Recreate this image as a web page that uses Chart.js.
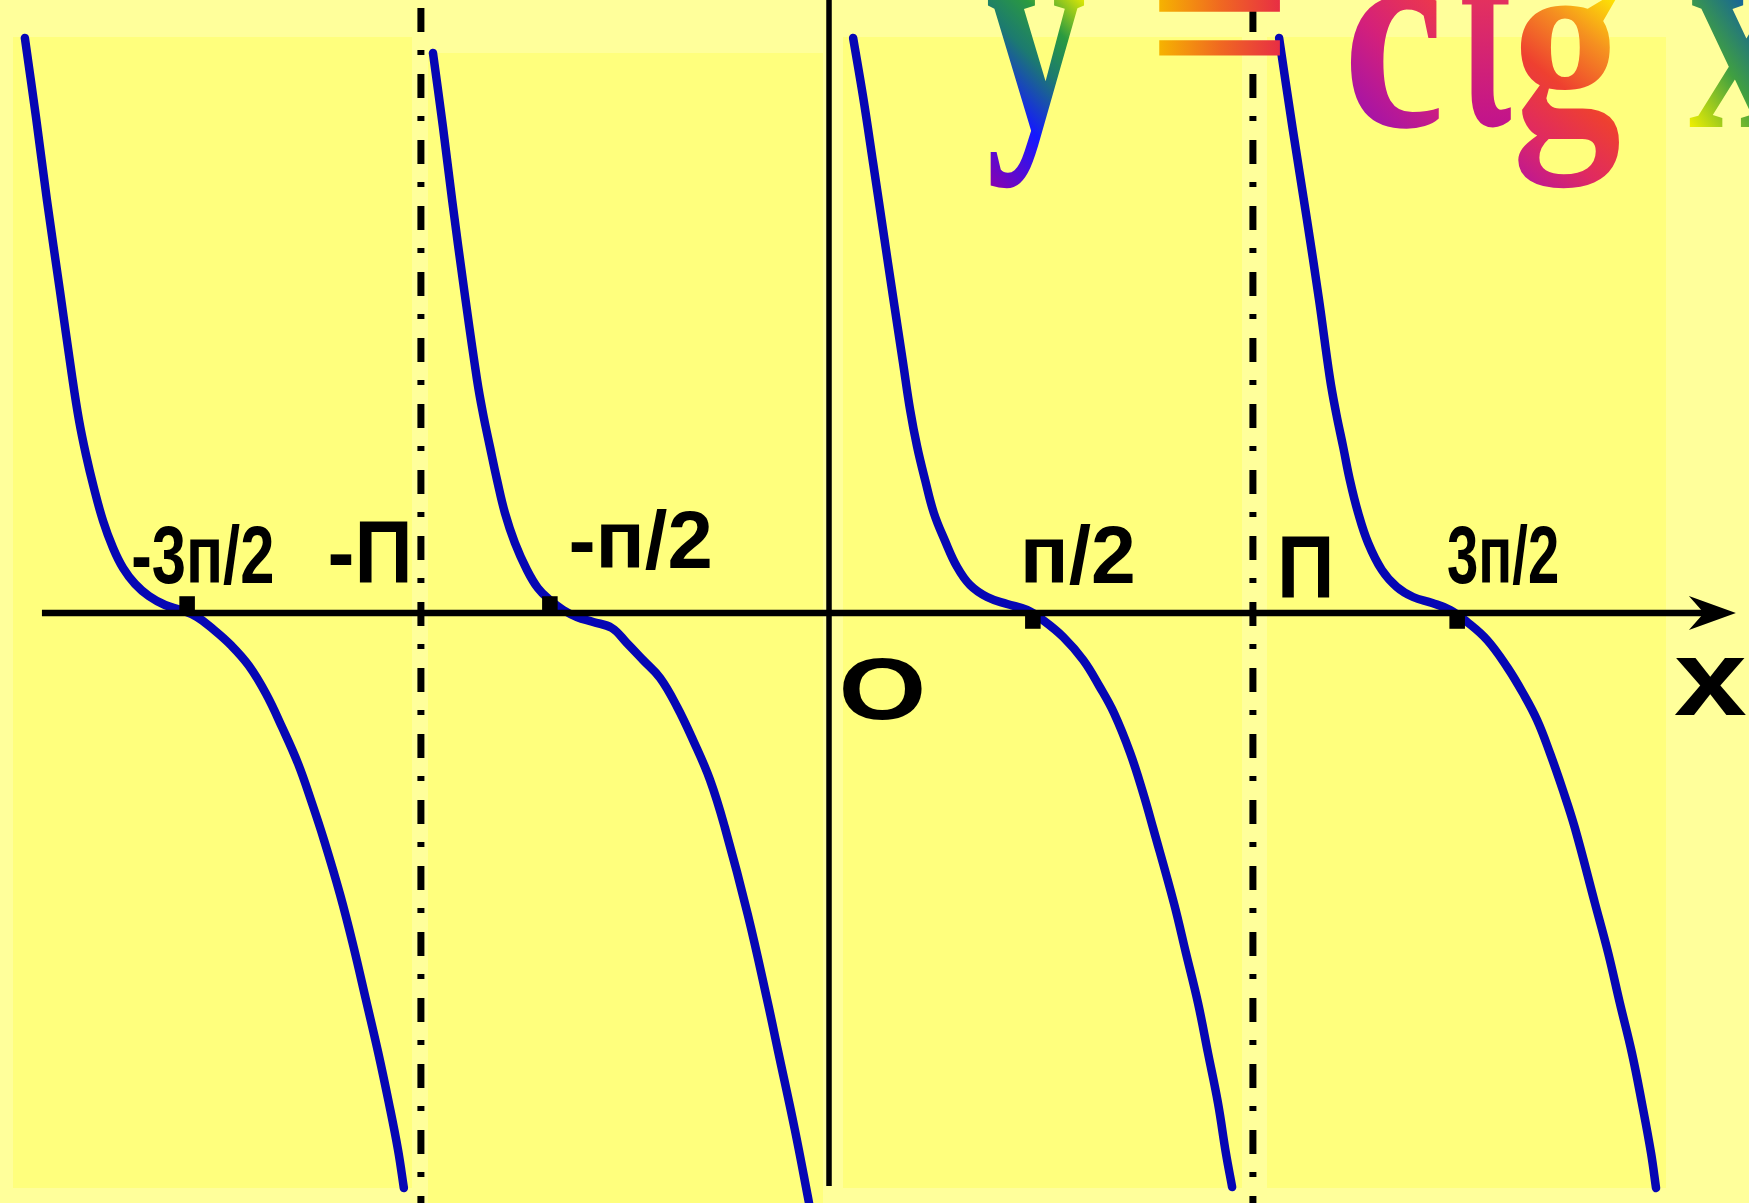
<!DOCTYPE html>
<html>
<head>
<meta charset="utf-8">
<title>y = ctg x</title>
<script src="https://cdn.jsdelivr.net/npm/chart.js@4.4.1/dist/chart.umd.min.js"></script>
<style>
  html, body { margin: 0; padding: 0; background: #ffff9b; }
  canvas { display: block; }
</style>
</head>
<body>
<canvas id="graph" width="1749" height="1203"></canvas>
<script>
// x is in units of pi, y in units of ctg x
const xRange = [-1.9928, 2.2115];
const yRange = [-5.90, 6.13];

const branch1 = [
  [-1.933, 5.75], [-1.906, 4.95], [-1.880, 4.13], [-1.849, 3.23], [-1.820, 2.38],
  [-1.803, 1.93], [-1.786, 1.58], [-1.767, 1.25], [-1.745, 0.92], [-1.721, 0.65],
  [-1.697, 0.45], [-1.668, 0.29], [-1.635, 0.17], [-1.596, 0.08], [-1.558, 0.03],
  [-1.519, -0.04], [-1.481, -0.16], [-1.438, -0.32], [-1.394, -0.53], [-1.353, -0.81],
  [-1.315, -1.14], [-1.276, -1.51], [-1.243, -1.90], [-1.214, -2.27], [-1.175, -2.82],
  [-1.144, -3.32], [-1.113, -3.87], [-1.084, -4.39], [-1.058, -4.90], [-1.036, -5.37],
  [-1.022, -5.75]
];
const branch2 = [
  [-0.952, 5.60], [-0.928, 4.86], [-0.906, 4.13], [-0.877, 3.23], [-0.846, 2.33],
  [-0.832, 2.00], [-0.815, 1.66], [-0.798, 1.33], [-0.779, 1.00], [-0.755, 0.70],
  [-0.726, 0.43], [-0.700, 0.25], [-0.671, 0.13], [-0.639, 0.03], [-0.606, -0.04],
  [-0.567, -0.09], [-0.522, -0.15], [-0.486, -0.30], [-0.447, -0.47], [-0.406, -0.65],
  [-0.365, -0.94], [-0.327, -1.27], [-0.286, -1.67], [-0.250, -2.15], [-0.195, -3.02],
  [-0.147, -3.90], [-0.123, -4.37], [-0.082, -5.17], [-0.048, -5.90]
];
const branch3 = [
  [0.058, 5.75], [0.082, 5.16], [0.106, 4.50], [0.130, 3.83], [0.154, 3.16],
  [0.178, 2.50], [0.195, 2.03], [0.212, 1.66], [0.231, 1.33], [0.252, 1.00],
  [0.279, 0.72], [0.308, 0.46], [0.339, 0.28], [0.380, 0.16], [0.428, 0.09],
  [0.476, 0.03], [0.514, -0.07], [0.563, -0.24], [0.611, -0.47], [0.651, -0.74],
  [0.685, -1.00], [0.724, -1.40], [0.755, -1.80], [0.779, -2.15], [0.829, -2.90],
  [0.858, -3.40], [0.887, -3.90], [0.911, -4.40], [0.935, -4.90], [0.954, -5.40],
  [0.969, -5.74]
];
const branch4 = [
  [1.082, 5.75], [1.115, 4.83], [1.149, 3.93], [1.178, 3.13], [1.204, 2.35],
  [1.219, 2.00], [1.236, 1.66], [1.252, 1.33], [1.272, 1.00], [1.296, 0.70],
  [1.329, 0.43], [1.365, 0.26], [1.404, 0.16], [1.450, 0.10], [1.493, 0.03],
  [1.534, -0.09], [1.582, -0.27], [1.630, -0.54], [1.668, -0.80], [1.702, -1.07],
  [1.733, -1.40], [1.764, -1.77], [1.793, -2.15], [1.841, -2.90], [1.873, -3.40],
  [1.901, -3.90], [1.930, -4.40], [1.954, -4.90], [1.976, -5.40], [1.988, -5.75]
];

const asymptotes = [-0.981, 1.019];
const zeroMarks = [[-1.543, 0.09], [-0.671, 0.09], [0.490, -0.08], [1.510, -0.08]];
const xAxisLine = [[-1.892, 0], [2.150, 0]];
const arrowTip = 2.180;
const yAxisLine = [[0, 6.13], [0, -5.73]];

const tickValues = [-1.543, -0.981, -0.671, 0.490, 1.019, 1.510];
const tickLabels = ['-3п/2', '-П', '-п/2', 'п/2', 'П', '3п/2'];
const originLabel = 'O';
const axisLabel = 'x';
const titleText = ['y', '=', 'c', 't', 'g', 'x'];

// ink box of each tick label: offset from its tick, and top/baseline from the x axis
const tickLabelBoxes = [
  { dx: -54, w: 139, top: -90, base: -30 },
  { dx: -91, w: 78, top: -91, base: -30 },
  { dx: 21, w: 139, top: -105, base: -45 },
  { dx: -8, w: 108, top: -89, base: -30 },
  { dx: 29, w: 48, top: -76, base: -15 },
  { dx: -9, w: 109, top: -90, base: -30 }
];

// title letters: ink box on the page plus a colour run for each
const titleGlyphs = [
  { box: [987, -4, 1085, 188], from: [990, 188], to: [1085, -5],
    stops: [[0, '#8a00b0'], [0.34, '#1418ff'], [0.6, '#1c7a70'], [0.78, '#2a9a40'], [1, '#f0f000']] },
  { box: [1158, -3, 1280, 56], from: [1158, 30], to: [1280, 30],
    stops: [[0, '#f6b400'], [0.5, '#f06a20'], [1, '#e82e44']] },
  { box: [1350, -4, 1439, 129], from: [1439, -5], to: [1350, 130],
    stops: [[0, '#ee3a48'], [0.45, '#d4207a'], [1, '#9810b4']] },
  { box: [1462, -40, 1511, 129], from: [1490, -40], to: [1490, 130],
    stops: [[0, '#ee3a50'], [1, '#c0128e']] },
  { box: [1518, -6, 1620, 188], from: [1620, -5], to: [1518, 188],
    stops: [[0, '#fff000'], [0.25, '#f59020'], [0.5, '#ee4030'], [0.75, '#e02a60'], [1, '#b8149c']] },
  { box: [1689, -4, 1792, 127], from: [1689, 126], to: [1792, -5],
    stops: [[0, '#f0f000'], [0.4, '#40a040'], [0.7, '#1a6a90'], [1, '#1030ff']] }
];

// background sheets behind the four branches
const sheets = [
  [13, 37, 412, 1188], [428, 53, 823, 1203], [843, 37, 1242, 1188], [1267, 37, 1666, 1188]
];

const pts = (arr) => arr.map(([x, y]) => ({ x: x, y: y }));

function fitText(ctx, text, left, top, base, width) {
  ctx.font = 'bold 100px "Liberation Sans", Arial, sans-serif';
  const m = ctx.measureText(text);
  const sx = width / (m.actualBoundingBoxLeft + m.actualBoundingBoxRight);
  const sy = (base - top) / m.actualBoundingBoxAscent;
  ctx.save();
  ctx.translate(left, base);
  ctx.scale(sx, sy);
  ctx.fillText(text, m.actualBoundingBoxLeft, 0);
  ctx.restore();
}

function drawTitle(ctx) {
  ctx.font = 'bold 200px "Liberation Serif", "Times New Roman", serif';
  titleText.forEach(function (ch, i) {
    const g = titleGlyphs[i];
    const [l, t, r, b] = g.box;
    const m = ctx.measureText(ch);
    const sx = (r - l) / (m.actualBoundingBoxLeft + m.actualBoundingBoxRight);
    const sy = (b - t) / (m.actualBoundingBoxAscent + m.actualBoundingBoxDescent);
    ctx.save();
    ctx.translate(l, t);
    ctx.scale(sx, sy);
    const grad = ctx.createLinearGradient(
      (g.from[0] - l) / sx, (g.from[1] - t) / sy,
      (g.to[0] - l) / sx, (g.to[1] - t) / sy);
    g.stops.forEach(function (s) { grad.addColorStop(s[0], s[1]); });
    ctx.fillStyle = grad;
    ctx.fillText(ch, m.actualBoundingBoxLeft, m.actualBoundingBoxAscent);
    ctx.restore();
  });
}

const paper = {
  id: 'paper',
  beforeDraw(chart) {
    const ctx = chart.ctx;
    ctx.save();
    ctx.fillStyle = '#ffff9b';
    ctx.fillRect(0, 0, chart.width, chart.height);
    ctx.fillStyle = '#ffff7d';
    sheets.forEach(function (s) { ctx.fillRect(s[0], s[1], s[2] - s[0], s[3] - s[1]); });
    ctx.restore();
  },
  afterDatasetsDraw(chart) {
    const ctx = chart.ctx;
    const xs = chart.scales.x, ys = chart.scales.y;
    const y0 = ys.getPixelForValue(0);
    ctx.save();
    ctx.fillStyle = '#000';
    ctx.textBaseline = 'alphabetic';

    // arrow head on the x axis
    const tx = xs.getPixelForValue(arrowTip);
    ctx.beginPath();
    ctx.moveTo(tx, y0);
    ctx.lineTo(tx - 47, y0 - 17);
    ctx.lineTo(tx - 32, y0);
    ctx.lineTo(tx - 47, y0 + 17);
    ctx.closePath();
    ctx.fill();

    tickValues.forEach(function (v, i) {
      const b = tickLabelBoxes[i];
      const px = xs.getPixelForValue(v);
      fitText(ctx, tickLabels[i], px + b.dx, y0 + b.top, y0 + b.base, b.w);
    });
    const ox = xs.getPixelForValue(0);
    fitText(ctx, originLabel, ox + 14, y0 + 45, y0 + 106, 79);
    fitText(ctx, axisLabel, tx - 62, y0 + 44, y0 + 102, 72);

    drawTitle(ctx);
    ctx.restore();
  }
};

const curveStyle = {
  showLine: true, borderColor: '#0606b4', borderWidth: 8.5, pointRadius: 0,
  tension: 0.4, borderJoinStyle: 'round', borderCapStyle: 'round', order: 2
};
const dashStyle = {
  showLine: true, borderColor: '#000', borderWidth: 7, pointRadius: 0,
  borderDash: [24, 18, 5, 19], borderDashOffset: 58, order: 3
};

new Chart(document.getElementById('graph'), {
  type: 'scatter',
  data: {
    datasets: [
      { data: pts(zeroMarks), pointStyle: 'rect', pointRadius: 11,
        pointBackgroundColor: '#000', pointBorderWidth: 0, order: 0 },
      { data: pts(xAxisLine), showLine: true, borderColor: '#000', borderWidth: 6.5, pointRadius: 0, order: 1 },
      { data: pts(yAxisLine), showLine: true, borderColor: '#000', borderWidth: 5.5, pointRadius: 0, order: 1 },
      Object.assign({ data: pts(branch1) }, curveStyle),
      Object.assign({ data: pts(branch2) }, curveStyle),
      Object.assign({ data: pts(branch3) }, curveStyle),
      Object.assign({ data: pts(branch4) }, curveStyle),
      Object.assign({ data: pts([[asymptotes[0], yRange[1]], [asymptotes[0], yRange[0]]]) }, dashStyle),
      Object.assign({ data: pts([[asymptotes[1], yRange[1]], [asymptotes[1], yRange[0]]]) }, dashStyle)
    ]
  },
  options: {
    responsive: false,
    animation: false,
    devicePixelRatio: 1,
    events: [],
    layout: { padding: 0, autoPadding: false },
    scales: {
      x: { type: 'linear', min: xRange[0], max: xRange[1], display: false },
      y: { type: 'linear', min: yRange[0], max: yRange[1], display: false }
    },
    plugins: {
      legend: { display: false },
      tooltip: { enabled: false }
    }
  },
  plugins: [paper]
});
</script>
</body>
</html>
